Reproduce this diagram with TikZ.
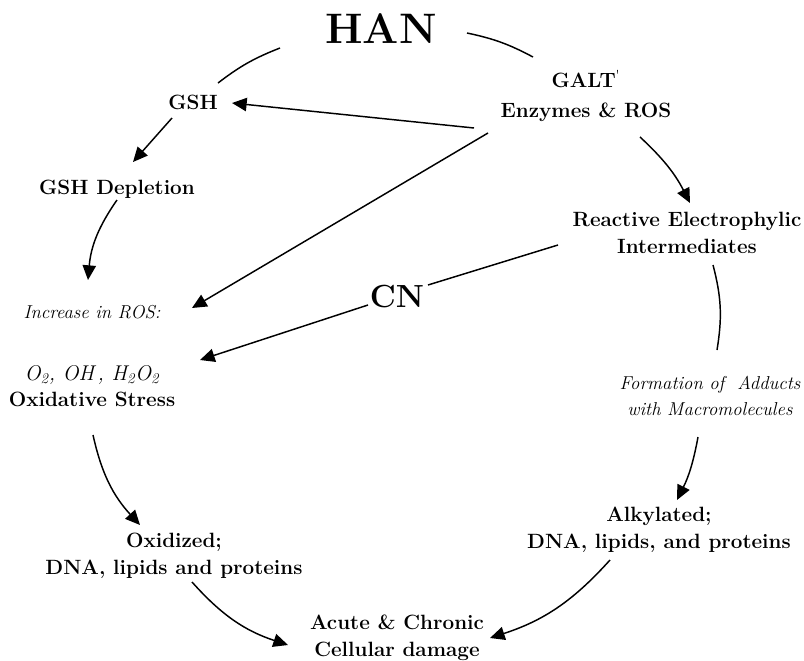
\documentclass[tikz,border=0pt]{standalone}
\usepackage{fontspec}
\usetikzlibrary{arrows.meta}

\begin{document}
\begin{tikzpicture}[
  x=0.75pt, y=0.75pt,
  >={Triangle[length=11pt,width=10pt]},
  line width=1.1pt,
  every node/.style = {inner sep=1pt, align=center},
  head/.style  = {font=\bfseries\fontsize{32}{36}\selectfont},
  agent/.style = {font=\bfseries\fontsize{24}{28}\selectfont},
  term/.style  = {font=\bfseries\fontsize{15.5}{20}\selectfont},
  note/.style  = {font=\itshape\fontsize{14}{20}\selectfont}]

  \useasboundingbox (0,0) rectangle (804,-661);

  % the compound and what acts on it
  \node[head] (han) at (381,-29) {HAN};
  \node[term, font=\bfseries\fontsize{15.5}{22.5}\selectfont] (galt) at (586,-96)
    {GALT\textsuperscript{\mdseries\textquotesingle}\\Enzymes \& ROS};
  \node[agent] (cn) at (397,-297) {CN};

  % left side, oxidative branch
  \node[term] (gsh)  at (193,-102) {GSH};
  \node[term] (depl) at (117,-189) {GSH Depletion};
  \node[note] (incr) at (92,-312)  {Increase in ROS:};
  \node[term] (ox)   at (92,-386)
    {{\mdseries\itshape\fontsize{16}{20}\selectfont O\textsubscript{2}, OH\,, H\textsubscript{2}O\textsubscript{2}}\\Oxidative Stress};
  \node[term] (oxd)  at (174,-556) {Oxidized;\\DNA, lipids and proteins};

  % right side, alkylation branch
  \node[term] (rei)  at (687,-233) {Reactive Electrophylic\\Intermediates};
  \node[note] (form) at (710,-396) {Formation of \ Adducts\\with Macromolecules};
  \node[term] (alk)  at (659,-530) {Alkylated;\\DNA, lipids, and proteins};

  \node[term] (acute) at (397,-638) {Acute \& Chronic\\Cellular damage};

  % plain arcs of the ring
  \draw ([shift={(-101,-19)}]han.center) to[bend right=8] ([shift={(25,19)}]gsh.center);
  \draw ([shift={(86,-4)}]han.center) to[bend left=8] ([shift={(-53,39)}]galt.center);
  \draw ([shift={(26,-32)}]rei.center) to[bend left=12] ([shift={(7,46)}]form.center);

  % arrows out of the enzymes
  \draw[->] ([shift={(-112,-32)}]galt.center) -- ([shift={(39,-1)}]gsh.center);
  \draw[->] ([shift={(-98,-37)}]galt.center) -- ([shift={(100,4)}]incr.center);
  \draw[->] ([shift={(54,-41)}]galt.center) to[bend left=10] ([shift={(3,30)}]rei.center);

  % left side
  \draw[->] ([shift={(-21,-16)}]gsh.center) -- ([shift={(16,27)}]depl.center);
  \draw[->] ([shift={(0,-11)}]depl.center) to[bend right=15] ([shift={(-4,32)}]incr.center);
  \draw[->] ([shift={(1,-49)}]ox.center) to[bend right=15] ([shift={(-34,31)}]oxd.center);
  \draw[->] ([shift={(18,-26)}]oxd.center) to[bend right=15] ([shift={(-109,-7)}]acute.center);

  % the cyanide line
  \draw ([shift={(-129,-12)}]rei.center) -- ([shift={(31,12)}]cn.center);
  \draw[->] ([shift={(-29,-8)}]cn.center) -- ([shift={(108,26)}]ox.center);

  % right side
  \draw[->] ([shift={(-12,-41)}]form.center) to[bend left=8] ([shift={(18,30)}]alk.center);
  \draw[->] ([shift={(-49,-30)}]alk.center) to[bend left=15] ([shift={(93,0)}]acute.center);
\end{tikzpicture}
\end{document}
